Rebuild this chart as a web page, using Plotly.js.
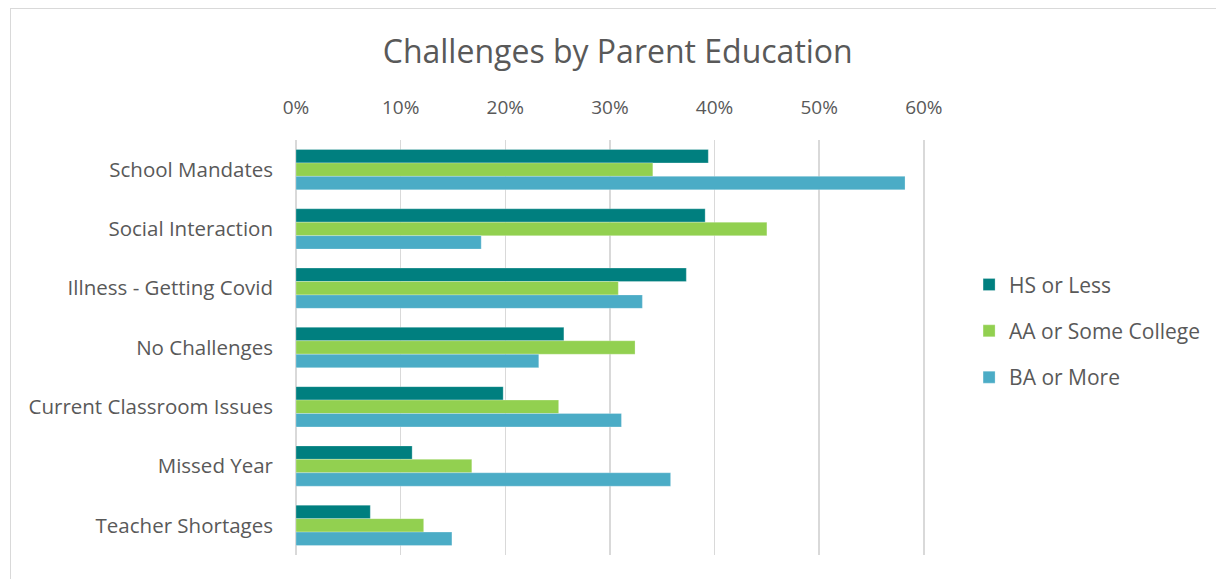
<!DOCTYPE html>
<html>
<head>
<meta charset="utf-8">
<script src="https://cdn.plot.ly/plotly-3.0.1.min.js"></script>
<style>
  html, body { margin: 0; padding: 0; background: #fff; }
  #wrap { position: relative; width: 1216px; height: 579px; }
  #chart { width: 1216px; height: 579px; }
  #frame { position: absolute; left: 10px; top: 8px; width: 1220px; height: 580px;
           border: 1px solid #d9d9d9; pointer-events: none; box-sizing: border-box; }
</style>
</head>
<body>
<div id="wrap">
  <div id="chart"></div>
  <div id="frame"></div>
</div>
<script>
const categories = ["School Mandates", "Social Interaction", "Illness - Getting Covid",
  "No Challenges", "Current Classroom Issues", "Missed Year", "Teacher Shortages"];
const seriesNames = ["HS or Less", "AA or Some College", "BA or More"];
const hsOrLess = [0.394, 0.391, 0.373, 0.256, 0.198, 0.111, 0.071];
const aaOrSomeCollege = [0.341, 0.450, 0.308, 0.324, 0.251, 0.168, 0.122];
const baOrMore = [0.582, 0.177, 0.331, 0.232, 0.311, 0.358, 0.149];
const tickValues = [0, 0.1, 0.2, 0.3, 0.4, 0.5, 0.6];
const tickLabels = ["0%", "10%", "20%", "30%", "40%", "50%", "60%"];

const colors = ["#007f7f", "#92d050", "#4bacc6"];
const values = [hsOrLess, aaOrSomeCollege, baOrMore];
const font = "'Open Sans', Lato, sans-serif";

const traces = values.map((v, i) => ({
  type: "bar",
  orientation: "h",
  name: seriesNames[i],
  x: v,
  y: categories,
  legendgroup: "g" + i,
  marker: { color: colors[i], line: { color: "rgba(255,255,255,0.5)", width: 0.5 } },
  hoverinfo: "x+y+name"
}));

const layout = {
  width: 1216, height: 579,
  margin: { l: 296, r: 288, t: 140, b: 24 },
  paper_bgcolor: "#fff", plot_bgcolor: "#fff",
  font: { family: font, color: "#595959", size: 20 },
  title: { text: "Challenges by Parent Education", x: 0.508, xanchor: "center",
           y: 0.91, yanchor: "middle", font: { family: font, size: 32, color: "#595959" } },
  barmode: "group",
  bargap: 0.32,
  bargroupgap: 0,
  xaxis: {
    side: "top", range: [0, 0.603], tickvals: tickValues, ticktext: tickLabels,
    showgrid: true, gridcolor: "#d9d9d9", gridwidth: 1.5,
    zeroline: true, zerolinecolor: "#d9d9d9", zerolinewidth: 1.5,
    showline: false, ticks: "", ticklabelstandoff: 21,
    tickfont: { family: font, size: 19, color: "#595959" }, fixedrange: true
  },
  yaxis: {
    autorange: "reversed", type: "category", showgrid: false, zeroline: false,
    showline: false, ticks: "", ticklabelstandoff: 22,
    tickfont: { family: font, size: 20.5, color: "#595959" }, fixedrange: true
  },
  legend: {
    x: 1.065, xanchor: "left", y: 0.54, yanchor: "middle",
    traceorder: "grouped", tracegroupgap: 16,
    font: { family: font, size: 21, color: "#595959" },
    bgcolor: "rgba(0,0,0,0)"
  },
  showlegend: true
};

Plotly.newPlot("chart", traces, layout, { displayModeBar: false, staticPlot: true });
</script>
</body>
</html>
